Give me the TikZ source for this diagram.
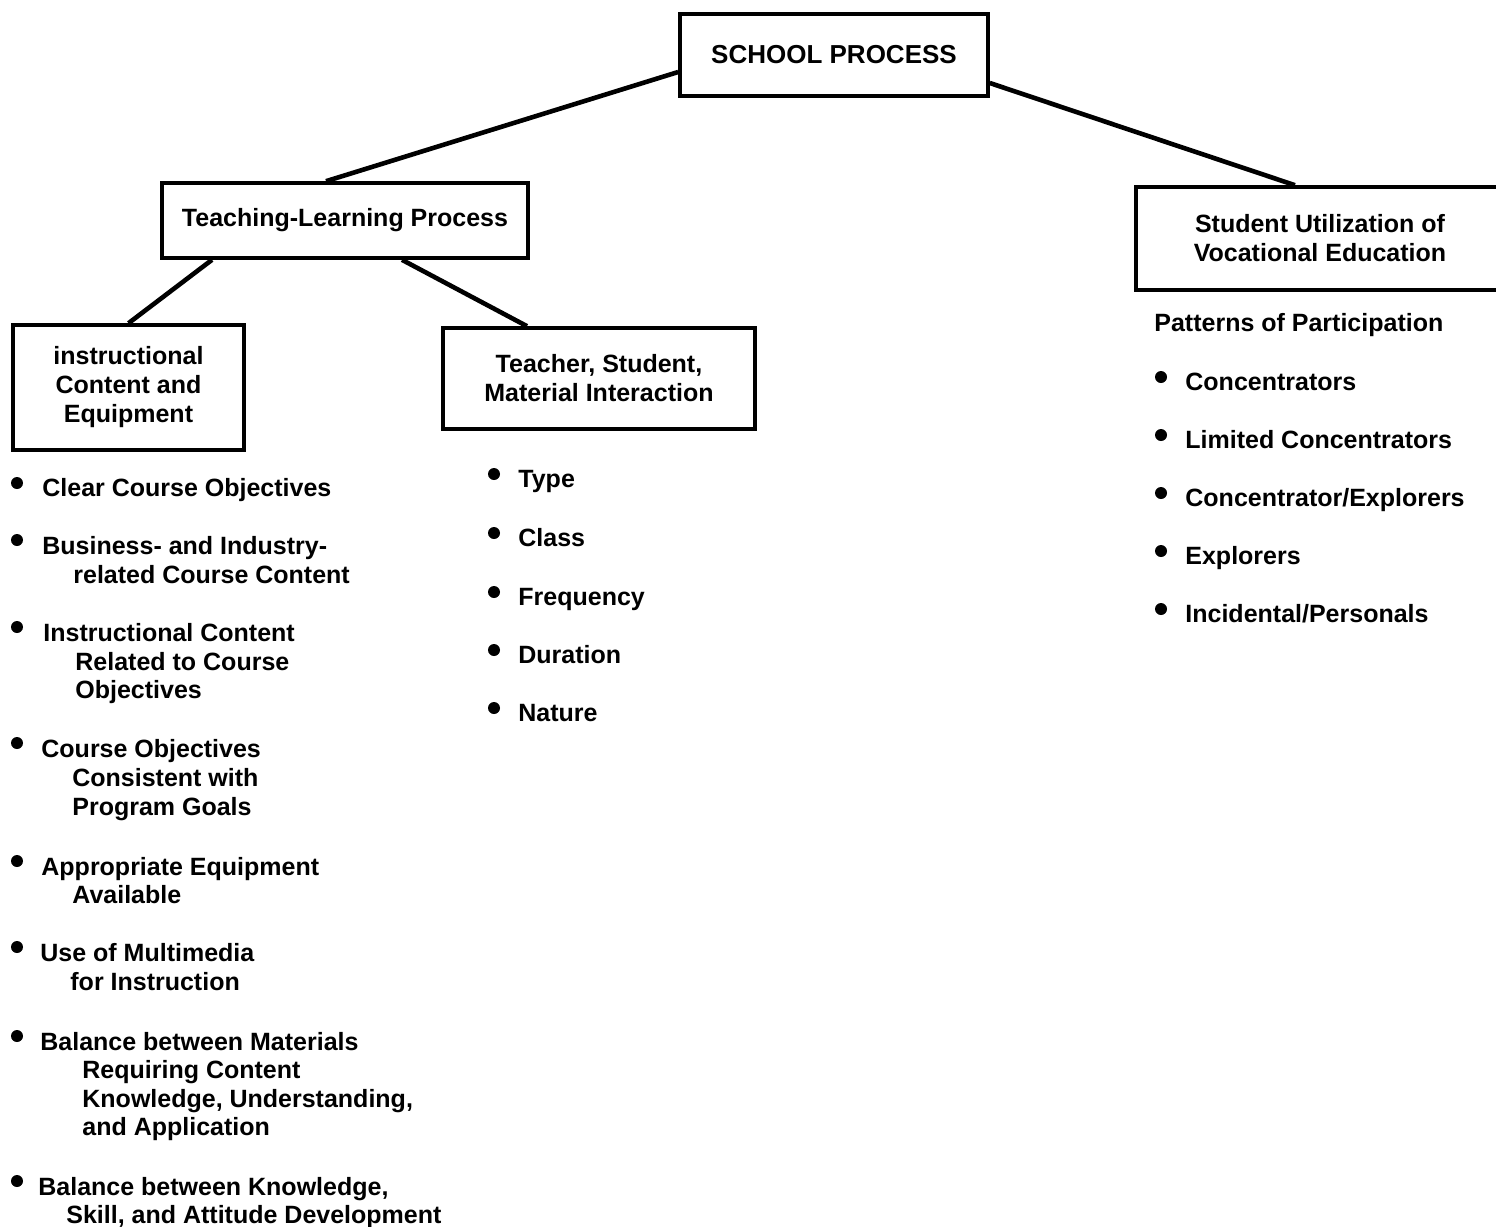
\documentclass[tikz,border=0pt]{standalone}
\usepackage{fontspec}
\setmainfont{Liberation Sans}
\begin{document}
\begin{tikzpicture}[x=0.5pt,y=-0.5pt,
  font=\fontsize{12.5}{14.5}\selectfont\bfseries,
  box/.style={draw, line width=1.8pt, align=center, inner sep=0pt},
  conn/.style={line width=2.3pt},
  txt/.style={anchor=base west, inner sep=0pt},
  dot/.style={circle, fill, inner sep=0pt, minimum size=6pt}]
\useasboundingbox (0,0) rectangle (1496,1227);
\clip (0,0) rectangle (1496,1227);
\fill[white] (0,0) rectangle (1496,1227);

% boxes
\node[box, minimum width=154pt, minimum height=41pt, font=\fontsize{13}{15}\selectfont\bfseries] (top) at (834,55) {SCHOOL PROCESS};
\node[box, minimum width=183pt, minimum height=37.5pt] (teach) at (345,220.5) {Teaching-Learning Process};
\node[box, minimum width=184pt, minimum height=51.5pt] (suve) at (1320,238.5) {Student Utilization of\\Vocational Education};
\node[box, minimum width=115.5pt, minimum height=62.5pt] (instr) at (128.5,387.5) {instructional\\Content and\\Equipment};
\node[box, minimum width=156pt, minimum height=50.5pt] (tsm) at (599,378.5) {Teacher, Student,\\Material Interaction};

% connectors
\draw[conn] ([yshift=-8.5pt]top.west) -- ([xshift=-9.5pt]teach.north);
\draw[conn] ([yshift=-14pt]top.east) -- ([xshift=-12.5pt]suve.north);
\draw[conn] ([xshift=-66.5pt]teach.south) -- (instr.north);
\draw[conn] ([xshift=28.5pt]teach.south) -- ([xshift=-36pt]tsm.north);

% left list
\node[dot] (lb1) at (17,483) {};
\node[txt] (l1) at (42,496) {Clear Course Objectives};
\node[dot] (lb2) at (17,540) {};
\node[txt] (l2a) at (42,554) {Business- and Industry-};
\node[txt] (l2b) at (73,583) {related Course Content};
\node[dot] (lb3) at (17,627) {};
\node[txt] (l3a) at (43,641) {Instructional Content};
\node[txt] (l3b) at (75,670) {Related to Course};
\node[txt] (l3c) at (75,698) {Objectives};
\node[dot] (lb4) at (17,743) {};
\node[txt] (l4a) at (41,757) {Course Objectives};
\node[txt] (l4b) at (72,786) {Consistent with};
\node[txt] (l4c) at (72,815) {Program Goals};
\node[dot] (lb5) at (17,861) {};
\node[txt] (l5a) at (41,875) {Appropriate Equipment};
\node[txt] (l5b) at (72,903) {Available};
\node[dot] (lb6) at (17,947) {};
\node[txt] (l6a) at (40,961) {Use of Multimedia};
\node[txt] (l6b) at (70,990) {for Instruction};
\node[dot] (lb7) at (17,1036) {};
\node[txt] (l7a) at (40,1050) {Balance between Materials};
\node[txt] (l7b) at (82,1078) {Requiring Content};
\node[txt] (l7c) at (82,1107) {Knowledge, Understanding,};
\node[txt] (l7d) at (82,1135) {and Application};
\node[dot] (lb8) at (17,1181) {};
\node[txt] (l8a) at (38,1195) {Balance between Knowledge,};
\node[txt] (l8b) at (66,1223) {Skill, and Attitude Development};

% middle list
\node[dot] (mb1) at (494,474) {};
\node[txt] (m1) at (518,487) {Type};
\node[dot] (mb2) at (494,533) {};
\node[txt] (m2) at (518,546) {Class};
\node[dot] (mb3) at (494,592) {};
\node[txt] (m3) at (518,605) {Frequency};
\node[dot] (mb4) at (494,650) {};
\node[txt] (m4) at (518,663) {Duration};
\node[dot] (mb5) at (494,708) {};
\node[txt] (m5) at (518,721) {Nature};

% right list
\node[txt] (pp) at (1154,331) {Patterns of Participation};
\node[dot] (rb1) at (1161,377) {};
\node[txt] (r1) at (1185,390) {Concentrators};
\node[dot] (rb2) at (1161,435) {};
\node[txt] (r2) at (1185,448) {Limited Concentrators};
\node[dot] (rb3) at (1161,493) {};
\node[txt] (r3) at (1185,506) {Concentrator/Explorers};
\node[dot] (rb4) at (1161,551) {};
\node[txt] (r4) at (1185,564) {Explorers};
\node[dot] (rb5) at (1161,609) {};
\node[txt] (r5) at (1185,622) {Incidental/Personals};
\end{tikzpicture}
\end{document}
